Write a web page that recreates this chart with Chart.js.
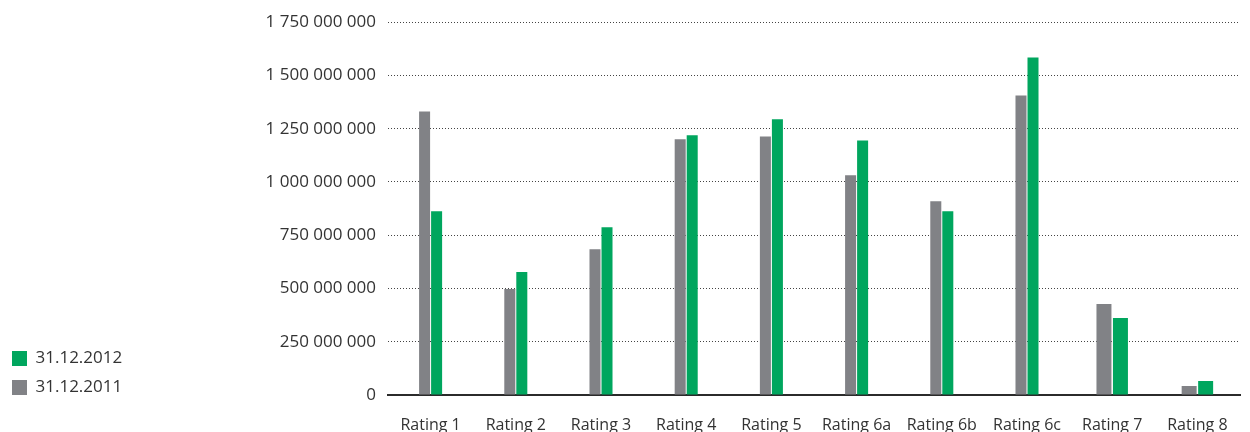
<!DOCTYPE html>
<html>
<head>
<meta charset="utf-8">
<script src="https://cdn.jsdelivr.net/npm/chart.js@4/dist/chart.umd.min.js"></script>
<style>
  html, body { margin: 0; padding: 0; background: #ffffff; }
  #wrap { width: 1250px; height: 432px; position: relative; }
</style>
</head>
<body>
<div id="wrap"><canvas id="c"></canvas></div>
<script>
// Rating classes on the category axis
const categories = ['Rating 1', 'Rating 2', 'Rating 3', 'Rating 4', 'Rating 5',
                    'Rating 6a', 'Rating 6b', 'Rating 6c', 'Rating 7', 'Rating 8'];

// Exposure per rating class
const values2011 = [1331000000, 497000000, 684000000, 1200000000, 1214000000,
                    1031000000, 909000000, 1406000000, 427000000, 42000000];
const values2012 = [862000000, 577000000, 787000000, 1219000000, 1294000000,
                    1195000000, 862000000, 1584000000, 361000000, 66000000];

const seriesLabels = ['31.12.2011', '31.12.2012'];

// Value axis ticks
const yTicks = [0, 250000000, 500000000, 750000000, 1000000000,
                1250000000, 1500000000, 1750000000];

// ---- styling ----
const GREY = '#818286';
const GREEN = '#00A65E';
const TEXT = '#333333';
const FONT = "'Open Sans', 'Noto Sans', sans-serif";
const FIRST_WIDE = 8;          // the last two classes use broader columns
const PLOT_LEFT = 388;         // left edge of the plotting area
const LEGEND_DROP = 13;        // legend ends this far below the baseline

// thousands grouped with spaces
const fmt = v => String(v).replace(/\B(?=(\d{3})+(?!\d))/g, '\u00A0');

// split each series into narrow / wide column groups
const part = (arr, wide) => arr.map((v, i) => ((i >= FIRST_WIDE) === wide ? v : null));

const narrow = { categoryPercentage: 0.282, barPercentage: 0.917 };
const wide = { categoryPercentage: 0.387, barPercentage: 0.909 };

const datasets = [
  Object.assign({ label: seriesLabels[0], data: part(values2011, false), backgroundColor: GREY }, narrow),
  Object.assign({ label: seriesLabels[1], data: part(values2012, false), backgroundColor: GREEN }, narrow),
  Object.assign({ label: seriesLabels[0], data: part(values2011, true), backgroundColor: GREY, inLegend: false }, wide),
  Object.assign({ label: seriesLabels[1], data: part(values2012, true), backgroundColor: GREEN, inLegend: false }, wide)
];

// keep the bottom-aligned legend level with the lower part of the plot
const legendLift = {
  id: 'legendLift',
  afterLayout(chart) {
    const lg = chart.legend;
    if (!lg) return;
    lg.bottom = chart.chartArea.bottom + LEGEND_DROP;
    lg.height = lg.bottom - lg.top;
  }
};

new Chart(document.getElementById('c'), {
  type: 'bar',
  data: { labels: categories, datasets: datasets },
  plugins: [legendLift],
  options: {
    responsive: true,
    maintainAspectRatio: false,
    animation: false,
    skipNull: true,
    layout: { padding: { top: 22, right: 10, bottom: 0, left: 0 } },
    plugins: {
      tooltip: { enabled: false },
      legend: {
        position: 'left',
        align: 'end',
        reverse: true,
        labels: {
          boxWidth: 15,
          boxHeight: 15,
          padding: 12,
          color: TEXT,
          font: { family: FONT, size: 17 },
          filter: (item, data) => data.datasets[item.datasetIndex].inLegend !== false
        }
      }
    },
    scales: {
      x: {
        grid: { display: false, drawTicks: false },
        border: { display: true, color: '#2b2b2b', width: 2 },
        ticks: { color: TEXT, font: { family: FONT, size: 16 }, padding: 21, maxRotation: 0, autoSkip: false },
        afterFit: s => { s.height = 37; }
      },
      y: {
        min: 0,
        max: yTicks[yTicks.length - 1],
        afterBuildTicks: s => { s.ticks = yTicks.map(v => ({ value: v })); },
        grid: { color: '#444444', lineWidth: 1, drawTicks: false },
        border: { display: false, dash: [1, 2] },
        ticks: {
          color: TEXT,
          font: { family: FONT, size: 17 },
          padding: 12,
          callback: v => fmt(v)
        },
        afterFit: s => {
          const lg = s.chart.legend;
          s.width = PLOT_LEFT - (lg ? lg.width : 0);
        }
      }
    }
  }
});
</script>
</body>
</html>
